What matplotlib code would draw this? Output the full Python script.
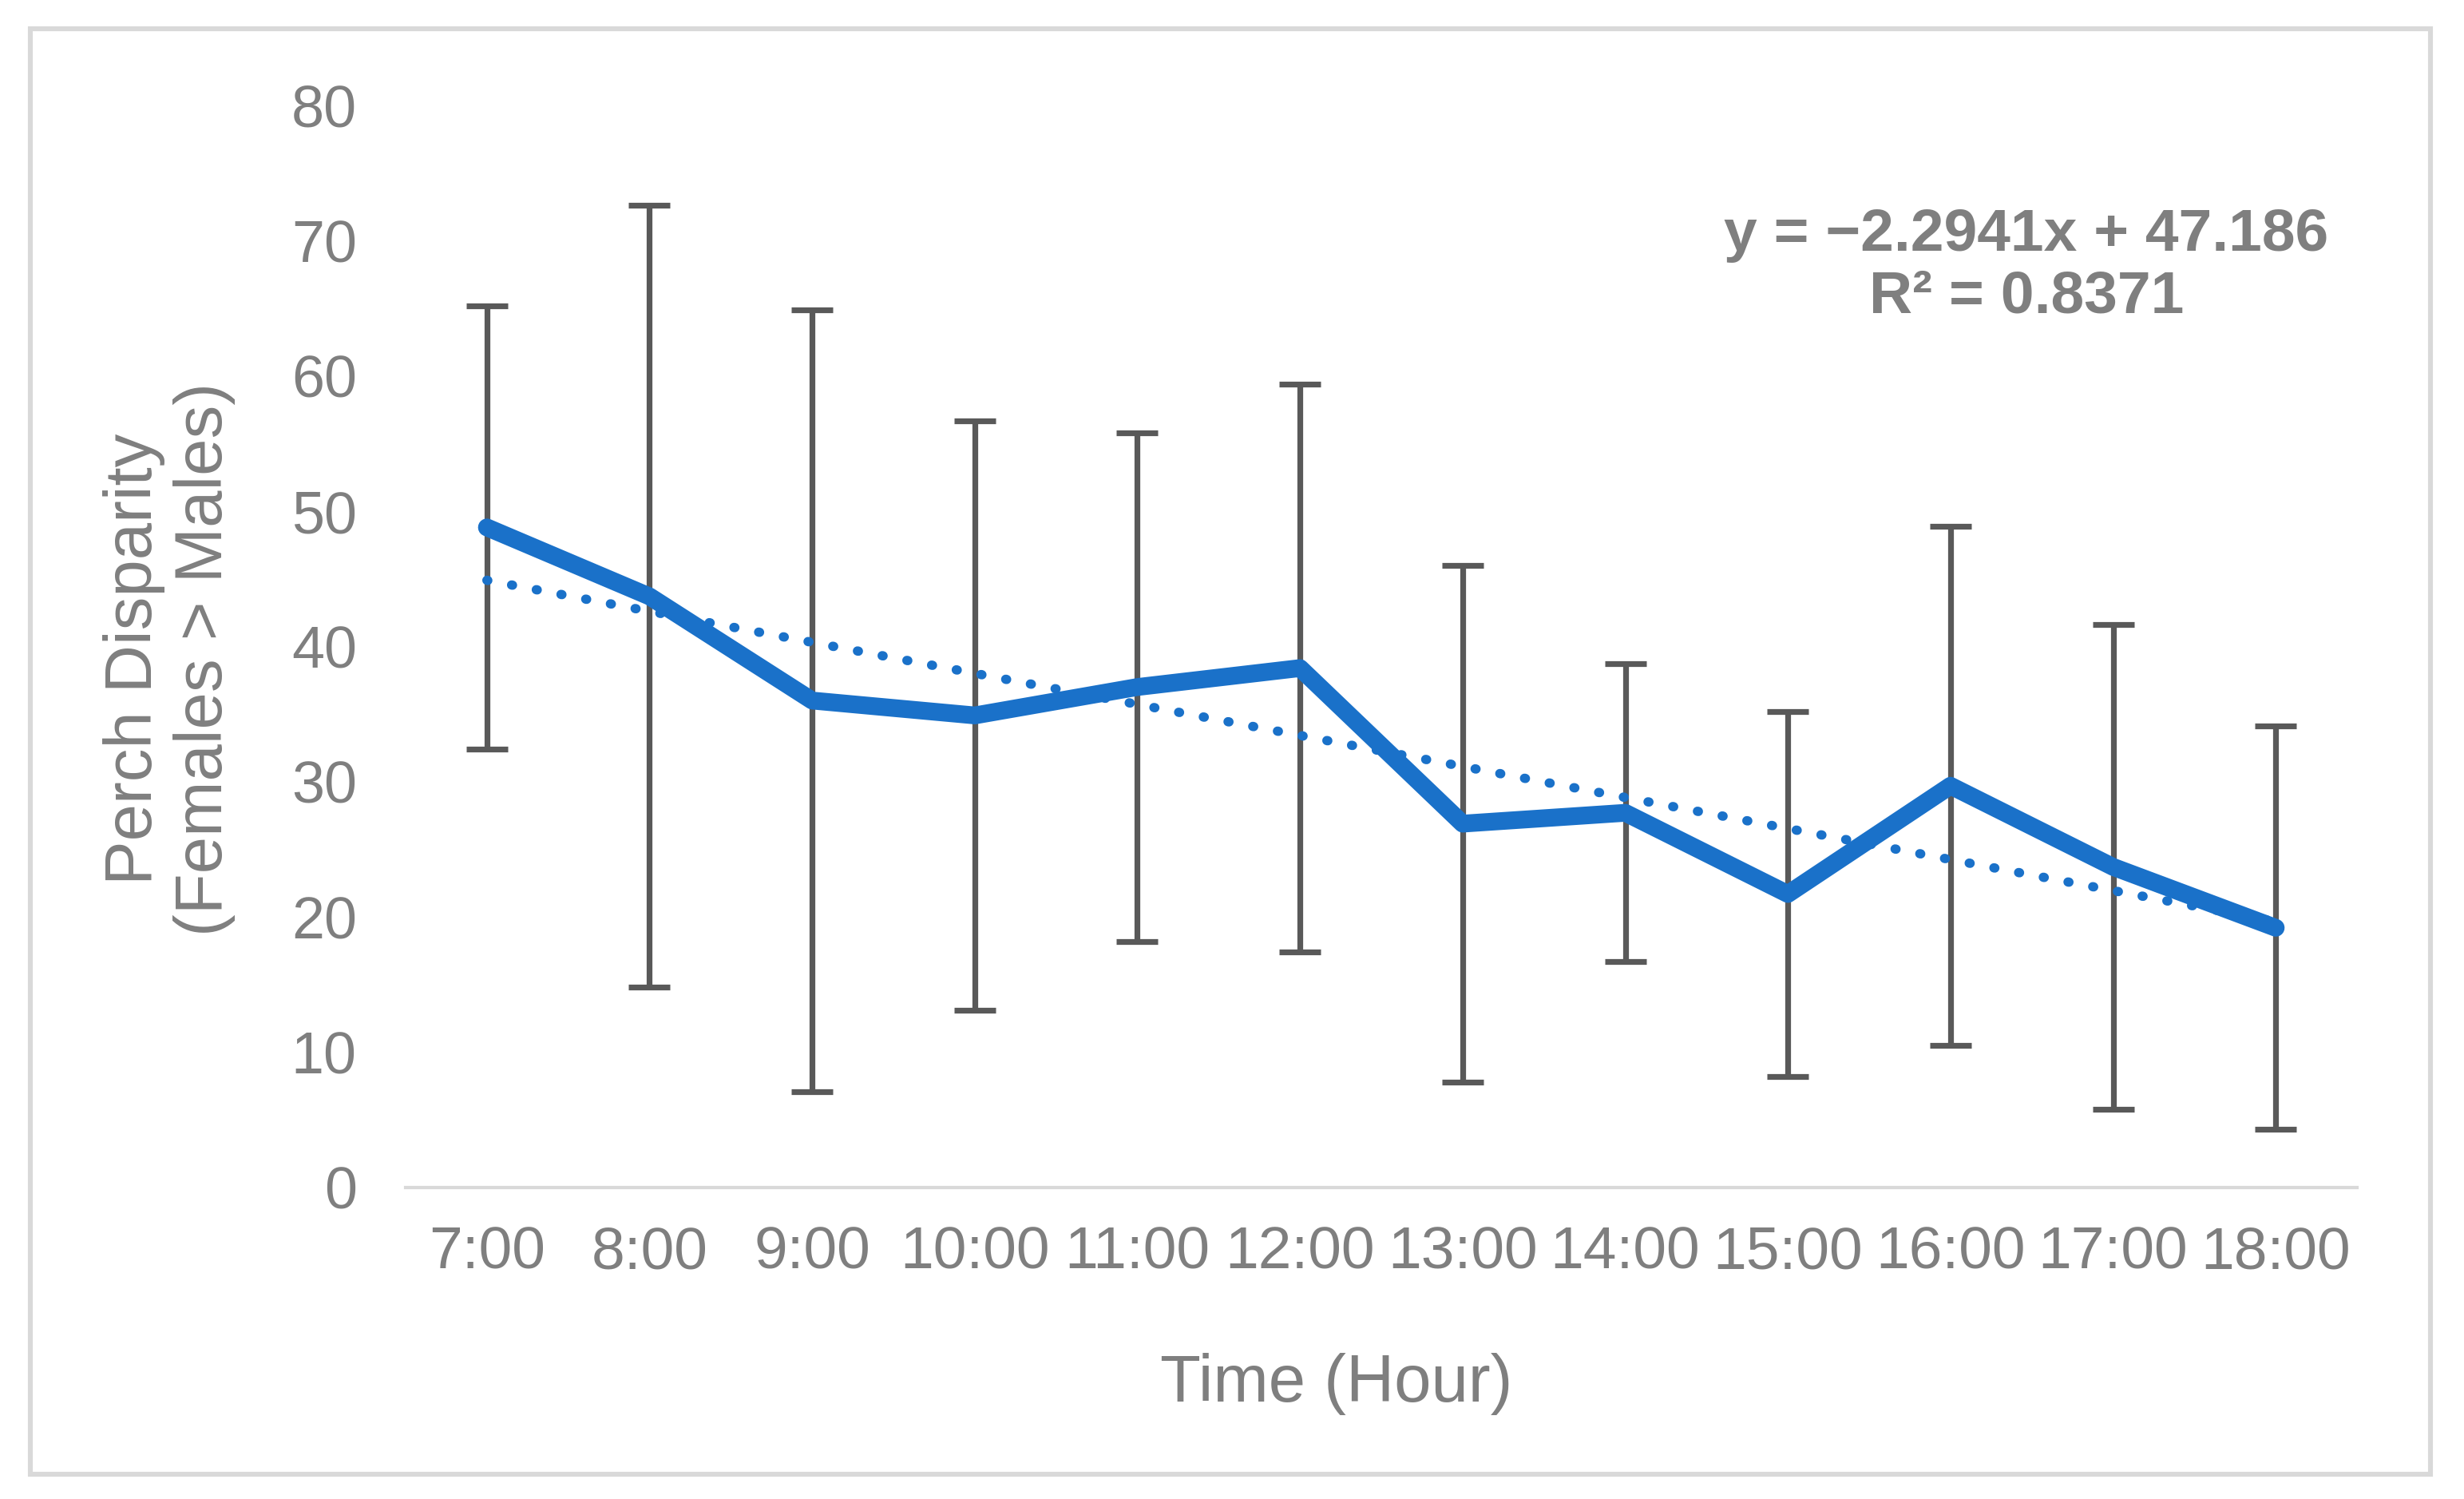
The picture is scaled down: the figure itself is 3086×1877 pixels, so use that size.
import matplotlib
matplotlib.use("Agg")
import matplotlib.pyplot as plt
from matplotlib.patches import Rectangle
import numpy as np

plt.rcParams['font.family'] = ['Liberation Sans', 'DejaVu Sans']

# ---- data ----
hours = ["7:00", "8:00", "9:00", "10:00", "11:00", "12:00",
         "13:00", "14:00", "15:00", "16:00", "17:00", "18:00"]
disparity = [48.8, 43.7, 36.0, 34.9, 37.0, 38.4, 26.9, 27.7, 21.7, 29.7, 23.7, 19.2]
error = [16.4, 28.9, 28.9, 21.8, 18.8, 21.0, 19.1, 11.0, 13.5, 19.2, 17.9, 14.9]
trend_slope = -2.2941
trend_intercept = 47.186
r_squared = 0.8371
y_ticks = [0, 10, 20, 30, 40, 50, 60, 70, 80]

GRAY_TXT = '#7F7F7F'
BLUE = '#1A71C9'
BAR = '#595959'

fig = plt.figure(figsize=(15.43, 9.385), dpi=200)

# outer chart border
fig.patches.append(Rectangle((37.5 / 3086, 1 - 1846 / 1877), (3044 - 37.5) / 3086,
                             (1846 - 35.5) / 1877, transform=fig.transFigure,
                             fill=False, edgecolor='#D9D9D9', linewidth=2.2))

ax = fig.add_axes([0.1646, 0.2078, 0.9566 - 0.1646, 0.9297 - 0.2078])
x = np.arange(len(hours))

ax.errorbar(x, disparity, yerr=error, fmt='none', ecolor=BAR, elinewidth=2.6,
            capsize=9.5, capthick=2.6, zorder=2)

tx = np.array([x[0], x[-1]], dtype=float)
ty = trend_slope * (tx + 1) + trend_intercept
ax.plot(tx, ty, color=BLUE, linewidth=4.2, linestyle=(0, (0.1, 2.6)),
        dash_capstyle='round', zorder=3)

ax.plot(x, disparity, color=BLUE, linewidth=8.0, solid_capstyle='round',
        solid_joinstyle='round', zorder=4)

ax.set_xlim(-0.5, len(hours) - 0.5)
ax.set_ylim(0, 80)
ax.set_xticks(x)
ax.set_xticklabels(hours)
ax.set_yticks(y_ticks)
ax.tick_params(axis='both', length=0, labelsize=26.5, labelcolor=GRAY_TXT)
ax.tick_params(axis='x', labelsize=27, pad=17)
ax.tick_params(axis='y', pad=22)
for s in ['top', 'right', 'left']:
    ax.spines[s].set_visible(False)
ax.spines['bottom'].set_color('#D9D9D9')
ax.spines['bottom'].set_linewidth(1.5)

fig.text(1674 / 3086, 1 - 1733 / 1877, "Time (Hour)", ha='center', va='center',
         fontsize=30, color=GRAY_TXT)
fig.text(212 / 3086, 1 - 825 / 1877, "Perch Disparity\n(Females > Males)",
         ha='center', va='center', rotation=90, fontsize=30, color=GRAY_TXT,
         multialignment='center', linespacing=1.15)

eq = f"y = \u2212{abs(trend_slope):.4f}x + {trend_intercept:.3f}\nR\u00b2 = {r_squared:.4f}"
fig.text(2538 / 3086, 1 - 333 / 1877, eq, ha='center', va='center', fontsize=27,
         fontweight='bold', color=GRAY_TXT, linespacing=1.15)

fig.savefig("out.png", dpi=200)
